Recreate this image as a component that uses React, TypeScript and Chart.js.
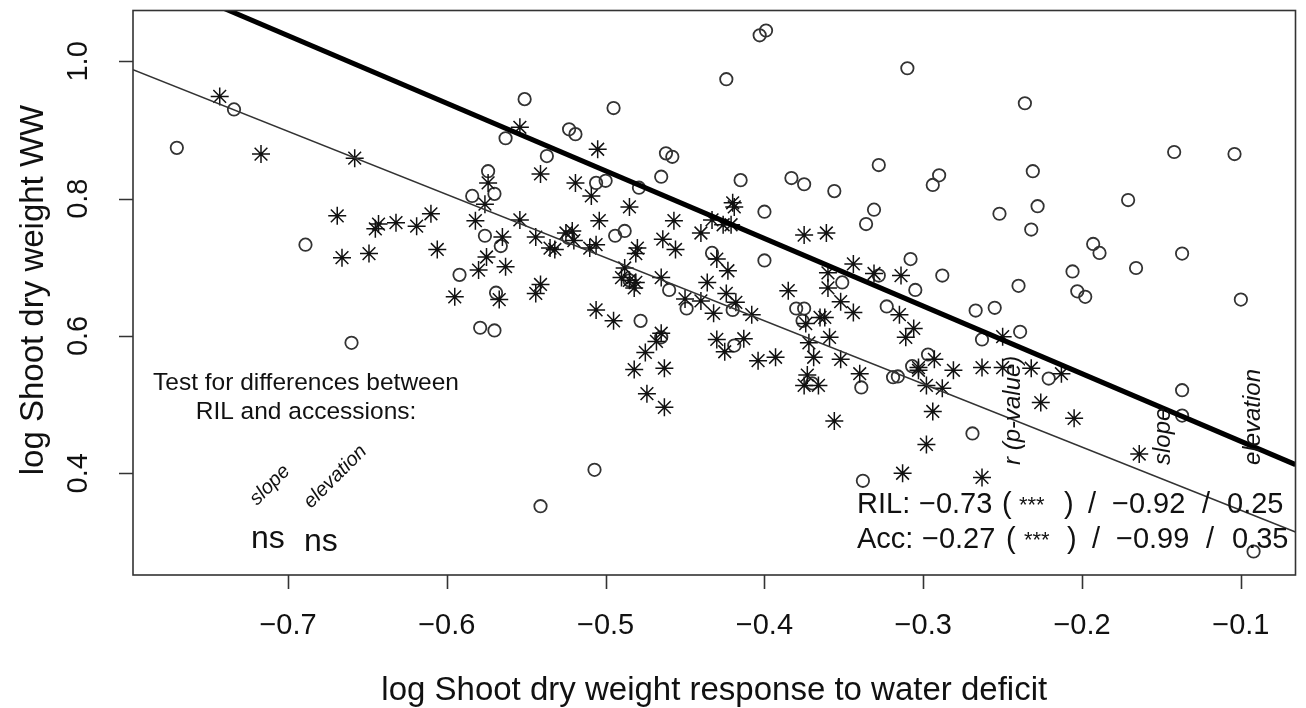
import React, { useEffect, useRef } from "react";
import { Chart, registerables } from "chart.js";

Chart.register(...registerables);

// Axis ticks
const xTicks = [-0.7, -0.6, -0.5, -0.4, -0.3, -0.2, -0.1];
const xTickLabels = ["−0.7", "−0.6", "−0.5", "−0.4", "−0.3", "−0.2", "−0.1"];
const yTicks = [0.4, 0.6, 0.8, 1.0];
const yTickLabels = ["0.4", "0.6", "0.8", "1.0"];

const xTitle = "log Shoot dry weight response to water deficit";
const yTitle = "log Shoot dry weight WW";

// Accessions (open circles)
const accX = [
  -0.770, -0.734, -0.689, -0.660, -0.592, -0.584, -0.579, -0.576, -0.574, -0.570,
  -0.570, -0.569, -0.566, -0.563, -0.551, -0.541, -0.537, -0.523, -0.519, -0.507,
  -0.506, -0.500, -0.495, -0.494, -0.488, -0.479, -0.478, -0.465, -0.465, -0.462,
  -0.458, -0.460, -0.449, -0.433, -0.424, -0.420, -0.419, -0.415, -0.403, -0.399,
  -0.400, -0.400, -0.383, -0.380, -0.375, -0.376, -0.375, -0.370, -0.356, -0.351,
  -0.339, -0.338, -0.336, -0.331, -0.328, -0.328, -0.323, -0.319, -0.316, -0.310,
  -0.308, -0.307, -0.305, -0.297, -0.294, -0.290, -0.288, -0.269, -0.267, -0.255,
  -0.263, -0.252, -0.240, -0.239, -0.236, -0.232, -0.231, -0.228, -0.221, -0.206,
  -0.203, -0.198, -0.193, -0.189, -0.171, -0.166, -0.142, -0.137, -0.137, -0.137,
  -0.104, -0.100, -0.092, -0.5235, -0.485,
];
const accY = [
  0.874, 0.930, 0.733, 0.590, 0.689, 0.804, 0.612, 0.746, 0.840, 0.807,
  0.608, 0.663, 0.731, 0.888, 0.945, 0.352, 0.862, 0.901, 0.894, 0.405,
  0.823, 0.826, 0.932, 0.746, 0.753, 0.816, 0.622, 0.832, 0.598, 0.866,
  0.861, 0.667, 0.640, 0.721, 0.974, 0.638, 0.586, 0.827, 1.038, 1.045,
  0.781, 0.710, 0.830, 0.640, 0.640, 0.622, 0.821, 0.531, 0.811, 0.678,
  0.525, 0.389, 0.763, 0.784, 0.849, 0.688, 0.643, 0.540, 0.541, 0.990,
  0.712, 0.556, 0.667, 0.573, 0.820, 0.834, 0.688, 0.458, 0.637, 0.641,
  0.595, 0.778, 0.673, 0.606, 0.939, 0.755, 0.840, 0.789, 0.538, 0.694,
  0.665, 0.657, 0.734, 0.721, 0.798, 0.699, 0.868, 0.521, 0.484, 0.720,
  0.865, 0.653, 0.286, 0.743, 0.681,
];

// RILs (asterisks)
const rilX = [
  -0.743, -0.717, -0.658, -0.669, -0.666, -0.649, -0.645, -0.643, -0.632, -0.619,
  -0.610, -0.606, -0.595, -0.582, -0.580, -0.576, -0.575, -0.574, -0.567, -0.565,
  -0.563, -0.554, -0.554, -0.544, -0.544, -0.541, -0.541, -0.535, -0.532, -0.525,
  -0.521, -0.520, -0.519, -0.510, -0.509, -0.506, -0.506, -0.505, -0.504, -0.495,
  -0.490, -0.488, -0.485, -0.485, -0.482, -0.481, -0.481, -0.480, -0.475, -0.474,
  -0.468, -0.465, -0.465, -0.464, -0.482, -0.463, -0.463, -0.457, -0.456, -0.450,
  -0.440, -0.440, -0.436, -0.433, -0.432, -0.430, -0.430, -0.426, -0.425, -0.424,
  -0.423, -0.421, -0.420, -0.419, -0.418, -0.413, -0.408, -0.404, -0.393, -0.385,
  -0.375, -0.361, -0.360, -0.360, -0.374, -0.365, -0.362, -0.352, -0.344, -0.344,
  -0.331, -0.315, -0.314, -0.306, -0.311, -0.359, -0.372, -0.369, -0.352, -0.340,
  -0.373, -0.375, -0.366, -0.303, -0.303, -0.293, -0.281, -0.298, -0.288, -0.294,
  -0.356, -0.298, -0.313, -0.263, -0.250, -0.263, -0.250, -0.232, -0.213, -0.226,
  -0.205, -0.164,
];
const rilY = [
  0.949, 0.865, 0.859, 0.775, 0.714, 0.720, 0.756, 0.763, 0.765, 0.760,
  0.778, 0.726, 0.657, 0.768, 0.696, 0.792, 0.715, 0.823, 0.653, 0.744,
  0.701, 0.904, 0.769, 0.744, 0.662, 0.675, 0.836, 0.728, 0.726, 0.750,
  0.753, 0.739, 0.823, 0.728, 0.804, 0.733, 0.638, 0.872, 0.768, 0.622,
  0.685, 0.699, 0.681, 0.788, 0.670, 0.678, 0.720, 0.728, 0.576, 0.516,
  0.592, 0.685, 0.604, 0.741, 0.551, 0.553, 0.496, 0.768, 0.726, 0.654,
  0.750, 0.651, 0.678, 0.769, 0.633, 0.712, 0.595, 0.762, 0.577, 0.662,
  0.695, 0.762, 0.794, 0.788, 0.649, 0.596, 0.631, 0.564, 0.569, 0.666,
  0.747, 0.750, 0.692, 0.670, 0.618, 0.627, 0.627, 0.650, 0.705, 0.634,
  0.691, 0.631, 0.688, 0.611, 0.598, 0.598, 0.590, 0.569, 0.566, 0.545,
  0.543, 0.528, 0.528, 0.554, 0.550, 0.566, 0.550, 0.528, 0.524, 0.490,
  0.476, 0.442, 0.400, 0.394, 0.599, 0.554, 0.554, 0.553, 0.545, 0.503,
  0.480, 0.428,
];

// Fitted lines: [RIL (thin), Acc (thick)]
const lineSlopes = [-0.92, -0.985];
const lineElevations = [0.254, 0.348];
const lineWidths = [1.5, 5];

// Statistics text
const statNames = ["RIL:", "Acc:"];
const statR = ["−0.73", "−0.27"];
const statSig = ["***", "***"];
const statSlope = ["−0.92", "−0.99"];
const statElev = ["0.25", "0.35"];

const X_MIN = -0.7976;
const X_MAX = -0.0656;
const Y_MIN = 0.2518;
const Y_MAX = 1.0741;

const FONT = '"Liberation Sans", Arial, Helvetica, sans-serif';

function rotText(ctx: CanvasRenderingContext2D, text: string, x: number, y: number, angle: number, align: CanvasTextAlign) {
  ctx.save();
  ctx.translate(x, y);
  ctx.rotate(angle);
  ctx.textAlign = align;
  ctx.fillText(text, 0, 0);
  ctx.restore();
}

const rPlotPlugin = {
  id: "rPlot",
  afterDraw(chart: any) {
    const ctx: CanvasRenderingContext2D = chart.ctx;
    const a = chart.chartArea;
    const xs = chart.scales.x;
    const ys = chart.scales.y;
    ctx.save();
    // box
    ctx.strokeStyle = "#333";
    ctx.lineWidth = 1.6;
    ctx.strokeRect(a.left, a.top, a.right - a.left, a.bottom - a.top);
    // ticks
    ctx.beginPath();
    xTicks.forEach((v) => {
      const px = Math.round(xs.getPixelForValue(v)) + 0.5;
      ctx.moveTo(px, a.bottom);
      ctx.lineTo(px, a.bottom + 14);
    });
    yTicks.forEach((v) => {
      const py = Math.round(ys.getPixelForValue(v)) + 0.5;
      ctx.moveTo(a.left, py);
      ctx.lineTo(a.left - 14, py);
    });
    ctx.stroke();

    ctx.fillStyle = "#111";
    ctx.textBaseline = "alphabetic";
    // tick labels
    ctx.font = `29px ${FONT}`;
    ctx.textAlign = "center";
    xTicks.forEach((v, i) => {
      ctx.fillText(xTickLabels[i], xs.getPixelForValue(v), 634);
    });
    yTicks.forEach((v, i) => {
      rotText(ctx, yTickLabels[i], 87, ys.getPixelForValue(v), -Math.PI / 2, "center");
    });
    // axis titles
    ctx.font = `33px ${FONT}`;
    ctx.textAlign = "center";
    ctx.fillText(xTitle, (a.left + a.right) / 2, 700);
    rotText(ctx, yTitle, 43, 290, -Math.PI / 2, "center");

    // left annotation
    ctx.font = `24.5px ${FONT}`;
    ctx.textAlign = "center";
    ctx.fillText("Test for differences between", 306, 390);
    ctx.fillText("RIL and accessions:", 306, 419);
    ctx.font = `italic 20px ${FONT}`;
    rotText(ctx, "slope", 257, 506, -Math.PI / 4, "left");
    rotText(ctx, "elevation", 311, 509, -Math.PI / 4, "left");
    ctx.font = `32px ${FONT}`;
    ctx.textAlign = "left";
    ctx.fillText("ns", 251, 548);
    ctx.fillText("ns", 304, 551);

    // right annotation headers
    ctx.font = `italic 24px ${FONT}`;
    rotText(ctx, "r (p-value)", 1020, 465, -Math.PI / 2, "left");
    rotText(ctx, "slope", 1170, 465, -Math.PI / 2, "left");
    rotText(ctx, "elevation", 1260, 465, -Math.PI / 2, "left");

    // statistics lines
    const rows = [
      { base: 513, pos: [857, 919, 1002, 1019, 1064, 1088, 1112, 1202, 1227] },
      { base: 548, pos: [857, 922, 1006, 1024, 1067, 1092, 1116, 1206, 1232] },
    ];
    rows.forEach((r, i) => {
      const p = r.pos;
      ctx.textAlign = "left";
      ctx.font = `29px ${FONT}`;
      ctx.fillText(statNames[i], p[0], r.base);
      ctx.fillText(statR[i], p[1], r.base);
      ctx.fillText("(", p[2], r.base);
      ctx.fillText(")", p[4], r.base);
      ctx.fillText("/", p[5], r.base);
      ctx.fillText(statSlope[i], p[6], r.base);
      ctx.fillText("/", p[7], r.base);
      ctx.fillText(statElev[i], p[8], r.base);
      ctx.font = `22px ${FONT}`;
      ctx.fillText(statSig[i], p[3], r.base - 1);
    });
    ctx.restore();
  },
};

export default function App() {
  const canvasRef = useRef<HTMLCanvasElement | null>(null);

  useEffect(() => {
    const canvas = canvasRef.current;
    if (!canvas) return;
    const accData = accX.map((x, i) => ({ x, y: accY[i] }));
    const rilData = rilX.map((x, i) => ({ x, y: rilY[i] }));
    const lineSets = lineSlopes.map((m, i) => ({
      label: i === 0 ? "RIL fit" : "Acc fit",
      data: [
        { x: X_MIN, y: lineElevations[i] + m * X_MIN },
        { x: X_MAX, y: lineElevations[i] + m * X_MAX },
      ],
      showLine: true,
      borderColor: i === 0 ? "#333" : "#000",
      borderWidth: lineWidths[i],
      pointRadius: 0,
      tension: 0,
      clip: 0,
      order: 0,
    }));
    const chart = new Chart(canvas, {
      type: "scatter",
      data: {
        datasets: [
          ...lineSets,
          {
            label: "Accessions",
            data: accData,
            pointStyle: "circle",
            pointRadius: 6.2,
            pointBorderWidth: 1.8,
            pointBorderColor: "#333",
            pointBackgroundColor: "rgba(0,0,0,0)",
            showLine: false,
            order: 2,
          },
          {
            label: "RIL",
            data: rilData,
            pointStyle: "star",
            pointRadius: 9,
            pointBorderWidth: 1.5,
            pointBorderColor: "#111",
            pointBackgroundColor: "rgba(0,0,0,0)",
            showLine: false,
            order: 1,
          },
        ] as any,
      },
      options: {
        responsive: false,
        animation: false,
        events: [],
        layout: { padding: { left: 133, right: 3, top: 9, bottom: 133 } },
        plugins: { legend: { display: false }, tooltip: { enabled: false } },
        scales: {
          x: { type: "linear", min: X_MIN, max: X_MAX, display: false },
          y: { type: "linear", min: Y_MIN, max: Y_MAX, display: false },
        },
      } as any,
      plugins: [rPlotPlugin],
    });
    return () => chart.destroy();
  }, []);

  return (
    <div style={{ position: "fixed", left: 0, top: 0, width: 1306, height: 708, background: "#fff" }}>
      <canvas ref={canvasRef} width={1306} height={708} style={{ width: 1306, height: 708, display: "block" }} />
    </div>
  );
}
